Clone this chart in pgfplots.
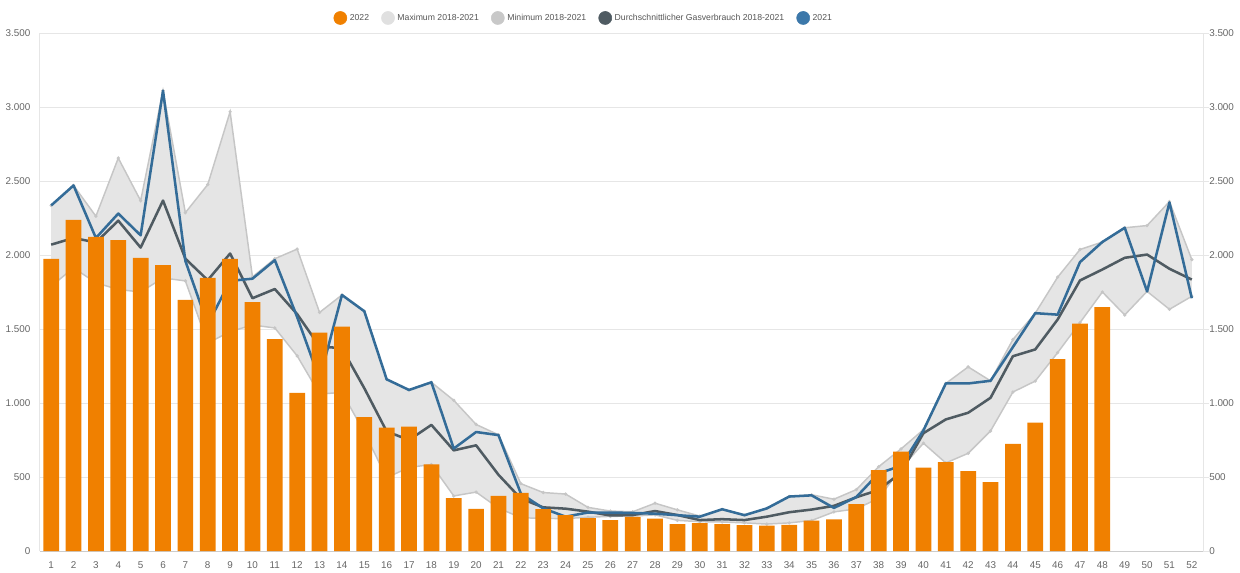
\documentclass[border=0pt]{standalone}
\usepackage{fontspec}
\setmainfont{Liberation Sans}
\usepackage{pgfplots}
\pgfplotsset{compat=1.18}
\usepackage{pgfplotstable}
\usepgfplotslibrary{fillbetween}

\definecolor{cbar}{RGB}{240,128,0}
\definecolor{cblue}{RGB}{52,108,152}
\definecolor{cblueleg}{RGB}{60,120,170}
\definecolor{cavg}{RGB}{79,91,98}
\definecolor{cband}{RGB}{229,229,229}
\definecolor{cedge}{RGB}{198,198,198}
\definecolor{cdot}{RGB}{150,150,150}
\definecolor{cmaxleg}{RGB}{224,224,224}
\definecolor{cminleg}{RGB}{200,200,200}
\definecolor{gridc}{RGB}{230,230,230}
\definecolor{axisc}{RGB}{204,204,204}
\definecolor{tickc}{RGB}{102,102,102}
\definecolor{legc}{RGB}{85,85,85}

\newcommand{\tickfont}{\fontsize{7.4pt}{8.5pt}\selectfont}
\newcommand{\legfont}{\fontsize{6.5pt}{8pt}\selectfont}

\pgfplotstableread{
w bar
1 1973
2 2237
3 2122
4 2101
5 1980
6 1932
7 1696
8 1845
9 1973
10 1681
11 1432
12 1068
13 1475
14 1516
15 905
16 834
17 840
18 586
19 358
20 284
21 372
22 393
23 283
24 243
25 222
26 209
27 231
28 219
29 182
30 189
31 181
32 175
33 171
34 176
35 205
36 214
37 317
38 547
39 672
40 564
41 600
42 540
43 465
44 723
45 868
46 1297
47 1536
48 1647
}\bars

\pgfplotstableread{
w max min avg y21
1 2335 1789 2070 2335
2 2470 1913 2115 2470
3 2262 1812 2085 2115
4 2655 1767 2232 2280
5 2367 1750 2050 2133
6 3110 1845 2368 3110
7 2286 1825 1975 1960
8 2476 1405 1830 1530
9 2968 1482 2010 1825
10 1852 1527 1708 1840
11 1975 1507 1770 1965
12 2040 1318 1600 1580
13 1612 1060 1382 1160
14 1730 1072 1370 1730
15 1620 802 1100 1620
16 1160 495 808 1160
17 1088 565 750 1088
18 1140 584 852 1140
19 1018 372 680 692
20 855 398 714 804
21 785 290 515 783
22 455 225 354 388
23 395 220 295 288
24 385 219 286 232
25 295 228 266 260
26 270 234 240 260
27 265 236 243 257
28 323 244 270 252
29 278 207 243 242
30 236 198 209 232
31 282 196 215 282
32 242 190 209 242
33 288 182 232 288
34 368 190 262 368
35 380 206 280 376
36 350 264 305 291
37 415 285 363 365
38 570 356 413 525
39 690 560 530 575
40 820 728 796 815
41 1132 595 889 1132
42 1244 660 934 1132
43 1150 811 1035 1150
44 1429 1074 1316 1378
45 1607 1148 1362 1607
46 1850 1340 1564 1597
47 2037 1543 1828 1952
48 2088 1750 1902 2088
49 2184 1595 1981 2184
50 2199 1754 2003 1754
51 2361 1633 1907 2355
52 1969 1721 1834 1708
}\lines

\begin{document}
\begin{tikzpicture}
% right axis
\begin{axis}[
  at={(0pt,0pt)}, anchor=south west, scale only axis,
  width=872.25pt, height=388.5pt,
  xmin=0.5, xmax=52.5, ymin=0, ymax=3500,
  axis x line=none, axis y line*=right,
  y axis line style={draw=gridc, line width=0.75pt},
  ytick={0,500,...,3500},
  major tick length=4.5pt, tick align=outside,
  ytick style={draw=gridc, line width=0.75pt},
  yticklabel style={font=\tickfont, text=tickc, inner sep=0pt, xshift=0pt},
  /pgf/number format/.cd, 1000 sep={.}, assume math mode=true,
]
\addplot[draw=none, forget plot] coordinates {(1,0)};
\end{axis}
% main axis
\begin{axis}[
  at={(0pt,0pt)}, anchor=south west, scale only axis,
  width=872.25pt, height=388.5pt,
  xmin=0.5, xmax=52.5, ymin=0, ymax=3500,
  clip mode=individual,
  axis x line*=bottom, axis y line*=left,
  x axis line style={draw=axisc, line width=0.75pt},
  y axis line style={draw=gridc, line width=0.75pt},
  xtick={1,...,52}, ytick={0,500,...,3500},
  major tick length=0pt,
  ymajorgrids, grid style={draw=gridc, line width=0.75pt},
  xticklabel style={font=\tickfont, text=tickc, inner sep=0pt, anchor=north, yshift=-8pt},
  yticklabel style={font=\tickfont, text=tickc, inner sep=0pt, anchor=east, xshift=-7pt},
  /pgf/number format/.cd, 1000 sep={.}, assume math mode=true,
  /pgfplots/.cd,
  legend style={at={(0.2524,1.029)}, anchor=west, draw=none, fill=none,
    font=\legfont, text=legc, inner sep=0pt, outer sep=0pt,
    /tikz/every even column/.append style={column sep=7.1pt}},
  legend columns=-1,
]
\addlegendimage{legend image code/.code={\fill[cbar] (0pt,0pt) circle (4.9pt);}}
\addlegendentry{2022}
\addlegendimage{legend image code/.code={\fill[cmaxleg] (0pt,0pt) circle (4.9pt);}}
\addlegendentry{Maximum 2018-2021}
\addlegendimage{legend image code/.code={\fill[cminleg] (0pt,0pt) circle (4.9pt);}}
\addlegendentry{Minimum 2018-2021}
\addlegendimage{legend image code/.code={\fill[cavg] (0pt,0pt) circle (4.9pt);}}
\addlegendentry{Durchschnittlicher Gasverbrauch 2018-2021}
\addlegendimage{legend image code/.code={\fill[cblueleg] (0pt,0pt) circle (4.9pt);}}
\addlegendentry{2021}

\addplot[draw=none, name path=pmax, forget plot] table[x=w, y=max] {\lines};
\addplot[draw=none, name path=pmin, forget plot] table[x=w, y=min] {\lines};
\addplot[fill=cband, draw=none, forget plot] fill between[of=pmax and pmin];
\addplot[cedge, line width=1.1pt, mark=*, mark size=0.6pt, mark options={fill=cdot, draw=none}, forget plot] table[x=w, y=max] {\lines};
\addplot[cedge, line width=1.1pt, mark=*, mark size=0.6pt, mark options={fill=cdot, draw=none}, forget plot] table[x=w, y=min] {\lines};
\addplot[cavg, line width=1.9pt, line join=round, forget plot] table[x=w, y=avg] {\lines};
\addplot[cblue, line width=1.9pt, line join=round, forget plot] table[x=w, y=y21] {\lines};
\addplot[ybar, bar width=11.8pt, fill=cbar, draw=none, forget plot] table[x=w, y=bar] {\bars};
\end{axis}
\pgfresetboundingbox
\useasboundingbox (-30pt,-15.75pt) rectangle (900pt,413.25pt);
\end{tikzpicture}
\end{document}
